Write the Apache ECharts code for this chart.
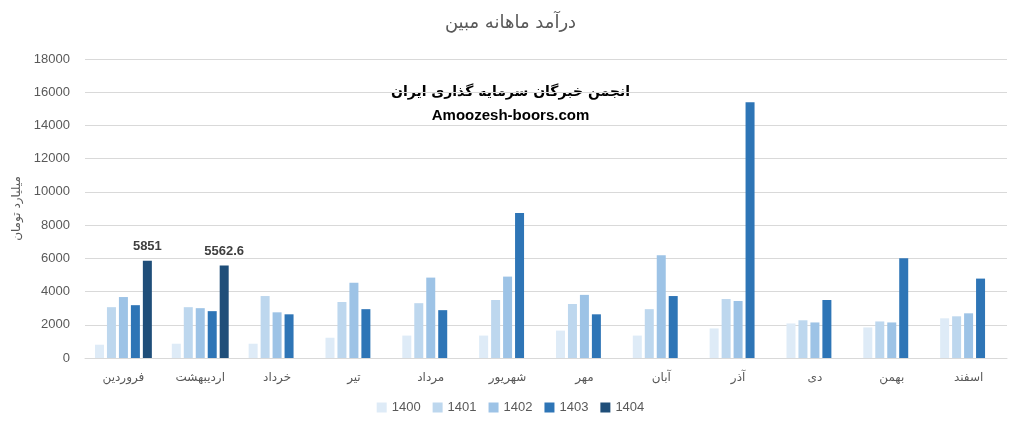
<!DOCTYPE html>
<html><head><meta charset="utf-8">
<script src="https://cdn.jsdelivr.net/npm/echarts@6/dist/echarts.min.js"></script>
<style>html,body{margin:0;padding:0;background:#fff}#c{width:1021px;height:425px}</style>
</head><body><div id="c"></div>
<script>
const categories = ['فروردین','اردیبهشت','خرداد','تیر','مرداد','شهریور','مهر','آبان','آذر','دی','بهمن','اسفند'];
const seriesNames = ['1400','1401','1402','1403','1404'];
const s1400 = [800, 860, 860, 1220, 1350, 1350, 1650, 1350, 1780, 2080, 1840, 2390];
const s1401 = [3060, 3060, 3730, 3370, 3300, 3490, 3250, 2940, 3550, 2270, 2200, 2510];
const s1402 = [3670, 3000, 2750, 4530, 4840, 4900, 3800, 6180, 3430, 2140, 2140, 2690];
const s1403 = [3180, 2820, 2630, 2940, 2880, 8730, 2630, 3730, 15390, 3490, 6000, 4780];
const s1404 = [5851, 5562.6, null, null, null, null, null, null, null, null, null, null];
const colors = ['#DEEBF7','#BDD7EE','#9DC3E6','#2E75B6','#1F4E79'];
const yTicks = {min:0, max:18000, interval:2000};

const font = 'Liberation Sans, DejaVu Sans, sans-serif';
const faFont = 'DejaVu Sans, sans-serif';
const data = [s1400, s1401, s1402, s1403, s1404];
const chart = echarts.init(document.getElementById('c'));
chart.setOption({
  animation:false,
  textStyle:{fontFamily:font},
  title:{text:'درآمد ماهانه مبین', left:'center', top:9,
    textStyle:{fontSize:18, fontWeight:'normal', color:'#595959', fontFamily:faFont}},
  grid:{left:85, right:14, top:59, bottom:67, containLabel:false},
  legend:{bottom:6, left:'center', itemWidth:10, itemHeight:10, itemGap:12, icon:'rect',
    textStyle:{fontSize:13, color:'#595959', fontFamily:font}, data:seriesNames},
  xAxis:{type:'category', data:categories,
    axisLine:{lineStyle:{color:'#D9D9D9'}}, axisTick:{show:false},
    axisLabel:{fontSize:12, color:'#595959', margin:14, fontFamily:faFont}},
  yAxis:{type:'value', min:yTicks.min, max:yTicks.max, interval:yTicks.interval,
    name:'میلیارد تومان', nameLocation:'middle', nameGap:62, nameRotate:90,
    nameTextStyle:{fontSize:12, color:'#595959', fontFamily:faFont},
    axisLine:{show:false}, axisTick:{show:false},
    axisLabel:{fontSize:13, color:'#595959', margin:15, fontFamily:font, formatter:v=>String(v)},
    splitLine:{lineStyle:{color:'#D9D9D9'}}},
  graphic:[
    {type:'text', left:'center', top:85, style:{text:'انجمن خبرگان سرمایه گذاری ایران', fontSize:14, fontWeight:'bold', fill:'#000', fontFamily:faFont}},
    {type:'text', left:'center', top:108, style:{text:'Amoozesh-boors.com', fontSize:15, fontWeight:'bold', fill:'#000', fontFamily:font}}
  ],
  series: seriesNames.map((n,i)=>({
    name:n, type:'bar', data:data[i], barWidth:9, barGap:'33%',
    itemStyle:{color:colors[i]},
    label:{show:i===4, position:'top', distance:8, fontSize:13, fontWeight:'bold', color:'#404040', fontFamily:font}
  }))
});
</script></body></html>
